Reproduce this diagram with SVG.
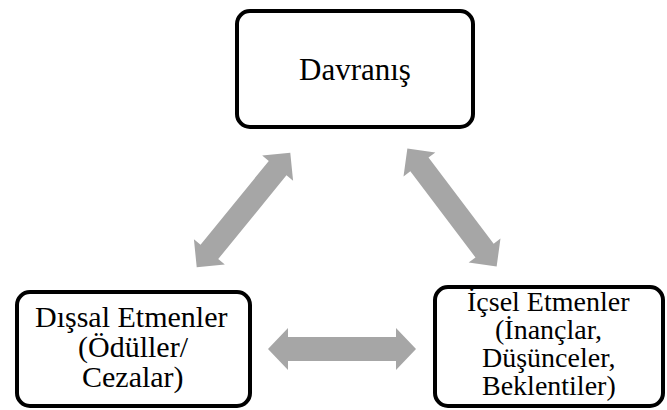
<svg xmlns="http://www.w3.org/2000/svg" width="667" height="410" viewBox="0 0 667 410">
<defs>
<path id="dbl" d="M-74,0 L-54,-21 L-54,-12 L54,-12 L54,-21 L74,0 L54,21 L54,12 L-54,12 L-54,21 Z"/>
</defs>
<rect width="667" height="410" fill="#fff"/>
<g id="connectors" fill="#A6A6A6">
<use href="#dbl" transform="translate(243.5,210) rotate(-50.8) scale(1,0.95)"/>
<use href="#dbl" transform="translate(452,207.5) rotate(52.9) scale(1,0.95)"/>
<use href="#dbl" transform="translate(342,349)"/>
</g>
<g id="davranis">
<rect x="237" y="11" width="236" height="116" rx="13" fill="#fff" stroke="#000" stroke-width="4"/>
<text x="299" y="80" font-size="31" font-family="Liberation Serif" style="font-family:'Liberation Serif',serif !important">Davranış</text>
</g>
<g id="dissal">
<rect x="17" y="292" width="233" height="114" rx="13" fill="#fff" stroke="#000" stroke-width="4"/>
<text x="35" y="327" font-size="30" font-family="Liberation Serif" style="font-family:'Liberation Serif',serif !important">Dışsal Etmenler</text>
<text x="78" y="357" font-size="30" font-family="Liberation Serif" style="font-family:'Liberation Serif',serif !important">(Ödüller/</text>
<text x="82" y="387" font-size="30" font-family="Liberation Serif" style="font-family:'Liberation Serif',serif !important">Cezalar)</text>
</g>
<g id="icsel">
<rect x="435" y="287" width="228" height="119" rx="13" fill="#fff" stroke="#000" stroke-width="4"/>
<text x="467" y="311" font-size="28" font-family="Liberation Serif" style="font-family:'Liberation Serif',serif !important">İçsel Etmenler</text>
<text x="495" y="339" font-size="28" font-family="Liberation Serif" style="font-family:'Liberation Serif',serif !important">(İnançlar,</text>
<text x="482" y="367" font-size="28" font-family="Liberation Serif" style="font-family:'Liberation Serif',serif !important">Düşünceler,</text>
<text x="482" y="395" font-size="28" font-family="Liberation Serif" style="font-family:'Liberation Serif',serif !important">Beklentiler)</text>
</g>
</svg>
